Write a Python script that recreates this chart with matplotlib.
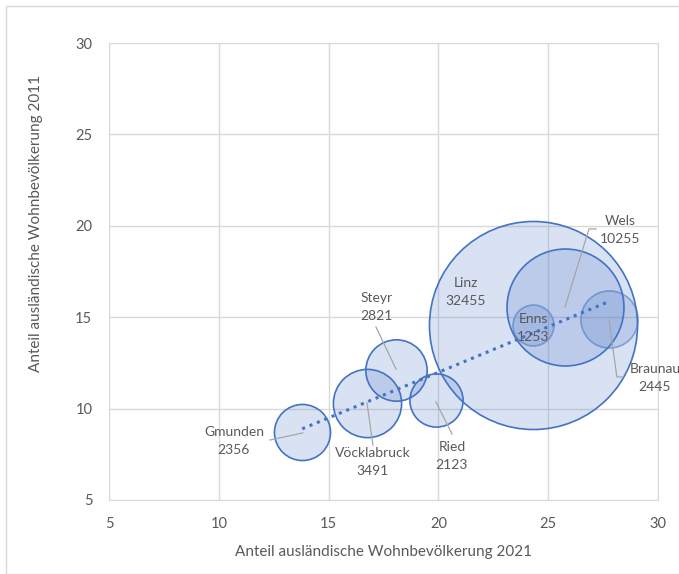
import numpy as np
import matplotlib
matplotlib.use("Agg")
import matplotlib.pyplot as plt

plt.rcParams['font.family'] = ['Lato', 'DejaVu Sans']

# data
orte = ['Gmunden', 'Vöcklabruck', 'Steyr', 'Ried', 'Linz', 'Wels', 'Enns', 'Braunau']
anteil_2021 = [13.8, 16.75, 18.05, 19.9, 24.3, 25.75, 24.3, 27.75]
anteil_2011 = [8.7, 10.3, 12.1, 10.45, 14.55, 15.55, 14.6, 14.9]
auslaender = [2356, 3491, 2821, 2123, 32455, 10255, 1253, 2445]

# label positions (data coords) + leader lines
label_pos = {
    'Gmunden': (10.69, 8.23),
    'Vöcklabruck': (17.02, 7.08),
    'Steyr': (17.2, 15.56),
    'Ried': (20.62, 7.41),
    'Linz': (21.26, 16.38),
    'Wels': (28.27, 19.77),
    'Enns': (24.33, 14.41),
    'Braunau': (29.86, 11.67),
}
leaders = {
    'Gmunden': [(13.83, 8.67), (12.33, 8.28)],
    'Vöcklabruck': [(16.75, 10.31), (17.02, 8.0)],
    'Steyr': [(18.07, 12.17), (17.16, 14.46)],
    'Ried': [(19.89, 10.36), (20.62, 8.61)],
    'Wels': [(25.77, 15.56), (26.86, 19.83), (27.18, 19.83)],
    'Braunau': [(27.77, 14.85), (28.13, 11.73), (28.41, 11.73)],
}

fig = plt.figure(figsize=(6.79, 5.74), dpi=100)
fig.patches.append(plt.Rectangle((0.009, 0.0), 1.2, 0.99, transform=fig.transFigure,
                                 fill=False, ec='#d9d9d9', lw=1))
ax = fig.add_axes([0.1605, 0.129, 0.8085, 0.796])

blue = '#4472C4'
grey = '#595959'
scale = 22440 / 32455.0
zo = {'Enns': 1, 'Braunau': 1}
for i, name in enumerate(orte):
    ec = blue if name not in zo else '#8faadc'
    ax.scatter(anteil_2021[i], anteil_2011[i], s=auslaender[i] * scale,
               facecolor=(0.267, 0.447, 0.769, 0.2), edgecolor=ec, lw=1.2,
               zorder=zo.get(name, 2), clip_on=False)

# linear trend line
k, d = np.polyfit(anteil_2021, anteil_2011, 1)
xs = np.array([min(anteil_2021), max(anteil_2021)])
ax.plot(xs, k * xs + d, ls=(0, (1, 1.6)), color=blue, lw=2.2, zorder=3)

for name, pts in leaders.items():
    px, py = zip(*pts)
    ax.plot(px, py, color='#a6a6a6', lw=0.9, zorder=4, clip_on=False)

for i, name in enumerate(orte):
    lx, ly = label_pos[name]
    ax.text(lx, ly, name + '\n' + str(auslaender[i]), ha='center', va='center',
            fontsize=10, color=grey, linespacing=1.55, zorder=5, clip_on=False)

ax.set_xlim(5, 30)
ax.set_ylim(5, 30)
ax.set_xticks(range(5, 31, 5))
ax.set_yticks(range(5, 31, 5))
ax.grid(True, color='#d9d9d9', lw=1)
ax.set_axisbelow(True)
for sp in ax.spines.values():
    sp.set_color('#d9d9d9')
ax.tick_params(length=0, colors=grey, labelsize=10.5, pad=12)
ax.set_xlabel('Anteil ausländische Wohnbevölkerung 2021', fontsize=11, color=grey, labelpad=10)
ax.set_ylabel('Anteil ausländische Wohnbevölkerung 2011', fontsize=11, color=grey)
ax.yaxis.set_label_coords(-0.12, 0.606)

fig.savefig('out.png', dpi=100)
